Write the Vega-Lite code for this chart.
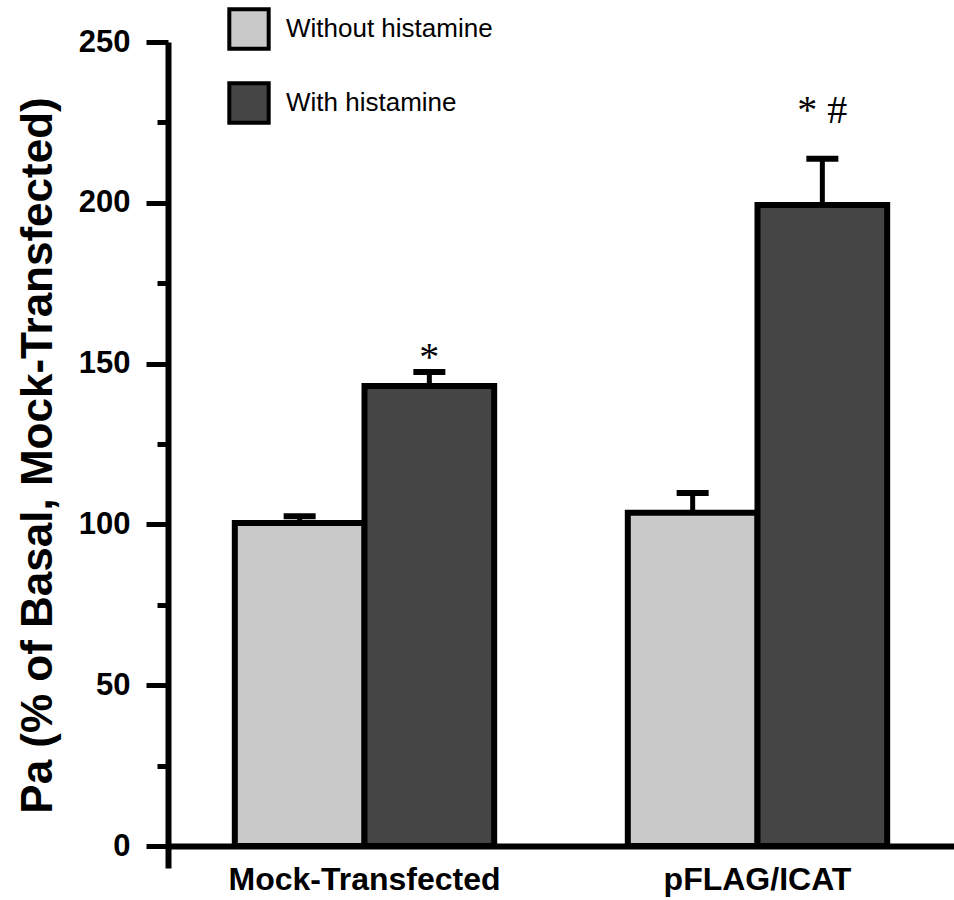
{
  "$schema": "https://vega.github.io/schema/vega-lite/v6.json",
  "autosize": "none",
  "width": 786,
  "height": 826,
  "padding": {"left": 168, "top": 42, "right": 0, "bottom": 32},
  "background": "white",
  "config": {
    "view": {"stroke": null},
    "font": "Liberation Sans"
  },
  "data": {
    "values": [
      {"group": "Mock-Transfected", "condition": "Without histamine", "value": 100.4, "upper": 102.5, "sig": ""},
      {"group": "Mock-Transfected", "condition": "With histamine", "value": 143.0, "upper": 147.4, "sig": "*"},
      {"group": "pFLAG/ICAT", "condition": "Without histamine", "value": 103.6, "upper": 109.8, "sig": ""},
      {"group": "pFLAG/ICAT", "condition": "With histamine", "value": 199.3, "upper": 213.7, "sig": "* #"}
    ]
  },
  "encoding": {
    "x": {
      "field": "group",
      "type": "nominal",
      "sort": ["Mock-Transfected", "pFLAG/ICAT"],
      "scale": {"paddingInner": 0.34, "paddingOuter": 0.17},
      "axis": {
        "title": null,
        "orient": "bottom",
        "offset": -22,
        "labelAngle": 0,
        "ticks": false,
        "domainColor": "black",
        "domainWidth": 6,
        "labelFont": "Liberation Sans",
        "labelFontSize": 32,
        "labelFontWeight": "bold",
        "labelColor": "black",
        "labelPadding": 18,
        "labelLimit": 0
      }
    },
    "xOffset": {
      "field": "condition",
      "type": "nominal",
      "sort": ["Without histamine", "With histamine"],
      "scale": {"paddingInner": 0, "paddingOuter": 0}
    }
  },
  "layer": [
    {
      "mark": {"type": "bar", "stroke": "black", "strokeWidth": 6},
      "encoding": {
        "y": {
          "field": "value",
          "type": "quantitative",
          "scale": {"domain": [-6.84, 250], "nice": false, "zero": false},
          "axis": {
            "title": "Pa (% of Basal, Mock-Transfected)",
            "titleFont": "Liberation Sans",
            "titleFontSize": 44,
            "titleFontWeight": "bold",
            "titleColor": "black",
            "titlePadding": 18,
            "values": [0, 25, 50, 75, 100, 125, 150, 175, 200, 225, 250],
            "labelExpr": "datum.value % 50 === 0 ? datum.label : ''",
            "labelFont": "Liberation Sans",
            "labelFontSize": 31,
            "labelFontWeight": "bold",
            "labelColor": "black",
            "labelPadding": 16,
            "grid": false,
            "domainColor": "black",
            "domainWidth": 6,
            "tickColor": "black",
            "tickWidth": 5,
            "tickSize": {"condition": {"test": "datum.value % 50 === 0", "value": 22}, "value": 11}
          }
        },
        "y2": {"datum": 0},
        "color": {
          "field": "condition",
          "type": "nominal",
          "sort": ["Without histamine", "With histamine"],
          "scale": {"domain": ["Without histamine", "With histamine"], "range": ["#c9c9c9", "#454545"]},
          "legend": {
            "title": null,
            "orient": "none",
            "legendX": 59,
            "legendY": -35,
            "symbolType": "square",
            "symbolSize": 1550,
            "symbolStrokeColor": "black",
            "symbolStrokeWidth": 4,
            "symbolOpacity": 1,
            "labelFont": "Liberation Sans",
            "labelFontSize": 26,
            "labelColor": "black",
            "labelOffset": 15,
            "labelLimit": 0,
            "rowPadding": 18
          }
        }
      }
    },
    {
      "mark": {"type": "rule", "color": "black", "strokeWidth": 5},
      "encoding": {
        "y": {"field": "value", "type": "quantitative"},
        "y2": {"field": "upper"}
      }
    },
    {
      "mark": {"type": "tick", "color": "black", "thickness": 6, "size": 32, "opacity": 1},
      "encoding": {
        "y": {"field": "upper", "type": "quantitative"}
      }
    },
    {
      "transform": [{"filter": "datum.group === 'Mock-Transfected' && datum.sig !== ''"}],
      "mark": {"type": "text", "font": "Liberation Serif", "fontSize": 40, "baseline": "alphabetic", "dy": -2, "color": "black"},
      "encoding": {
        "y": {"field": "upper", "type": "quantitative"},
        "text": {"field": "sig"}
      }
    },
    {
      "transform": [{"filter": "datum.group === 'pFLAG/ICAT' && datum.sig !== ''"}],
      "mark": {"type": "text", "font": "Liberation Serif", "fontSize": 40, "baseline": "alphabetic", "dy": -36, "color": "black"},
      "encoding": {
        "y": {"field": "upper", "type": "quantitative"},
        "text": {"field": "sig"}
      }
    }
  ]
}
